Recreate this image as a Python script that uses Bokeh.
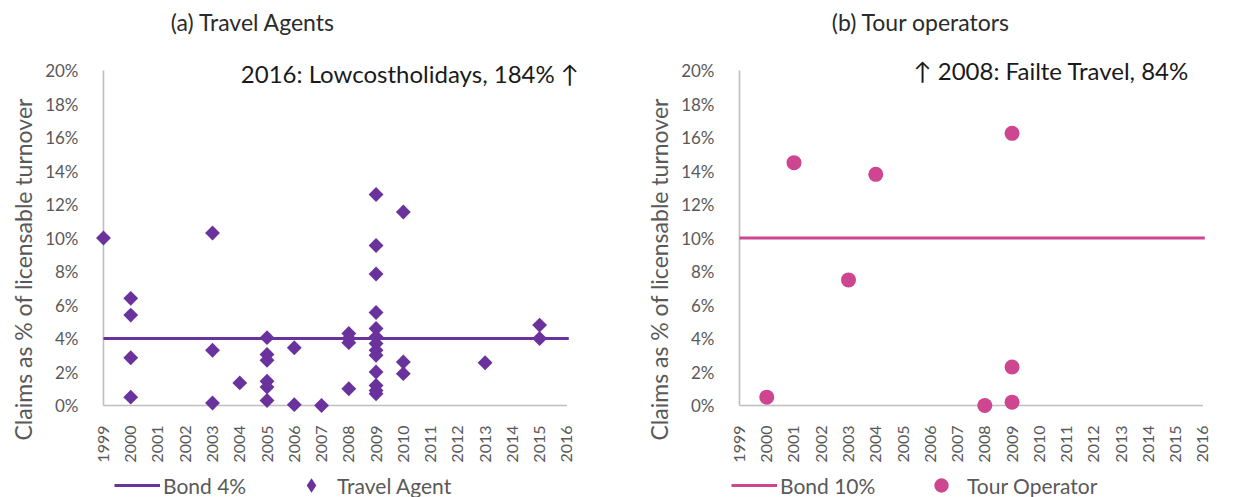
import math
from bokeh.plotting import figure
from bokeh.models import (Range1d, FixedTicker, PrintfTickFormatter, Label,
                          Legend, LegendItem, Title)
from bokeh.layouts import row, column
from bokeh.embed import file_html
from bokeh.resources import INLINE

FONT = "Lato"

# ---------------- data ----------------
years = list(range(1999, 2017))          # category axis 1999..2016
y_ticks = list(range(0, 21, 2))          # 0% .. 20%

# (a) Travel agents: claims as % of licensable turnover
ta_year = [1999,
           2000, 2000, 2000, 2000,
           2003, 2003, 2003,
           2004,
           2005, 2005, 2005, 2005, 2005, 2005,
           2006, 2006,
           2007,
           2008, 2008, 2008, 2008,
           2009, 2009, 2009, 2009, 2009, 2009, 2009, 2009, 2009, 2009, 2009, 2009, 2009,
           2010, 2010, 2010,
           2013,
           2015, 2015]
ta_value = [10.0,
            6.4, 5.4, 2.85, 0.5,
            10.3, 3.3, 0.15,
            1.35,
            4.05, 3.05, 2.7, 1.45, 1.1, 0.3,
            3.45, 0.05,
            0.0,
            4.3, 4.0, 3.75, 1.0,
            12.6, 9.55, 7.85, 5.55, 4.6, 4.1, 3.7, 3.3, 3.0, 2.0, 1.2, 0.9, 0.7,
            11.55, 2.6, 1.9,
            2.55,
            4.8, 4.0]
ta_bond = 4

# (b) Tour operators
to_year = [2000, 2001, 2003, 2004, 2008, 2009, 2009, 2009]
to_value = [0.5, 14.5, 7.5, 13.8, 0.0, 16.25, 2.3, 0.2]
to_bond = 10

PURPLE = "#6A329C"
PINK = "#CE4590"
GREY_TXT = "#595959"
AXIS_GREY = "#BFBFBF"

MARKERS = {"ta": dict(marker="square", size=10.5, angle=math.pi / 4),
           "to": dict(marker="circle", size=15, angle=0)}
LEGEND_MARKERS = {"ta": "diamond", "to": "circle"}


def make_panel(width, border_right, title, title_x,
               note, note_x, note_y, xs, ys, bond, color, mk):
    p = figure(width=width, height=468,
               x_range=Range1d(1998.634, 2016.5),
               y_range=Range1d(-0.597, 24.18),
               output_backend="svg", toolbar_location=None, title=None,
               min_border_left=92, min_border_right=border_right,
               min_border_top=0, min_border_bottom=53)
    p.grid.visible = False
    p.outline_line_color = None
    p.background_fill_color = "white"

    # y-axis caption as a side title, starting a little below the frame bottom
    p.add_layout(Title(text="Claims as % of licensable turnover", align="left",
                       offset=-25, standoff=12, text_font=FONT,
                       text_font_size="23px", text_font_style="normal",
                       text_color=GREY_TXT), "left")

    p.yaxis.ticker = FixedTicker(ticks=y_ticks)
    p.yaxis.formatter = PrintfTickFormatter(format="%d%%")
    p.xaxis.ticker = FixedTicker(ticks=years)
    p.xaxis.formatter = PrintfTickFormatter(format="%d")
    p.xaxis.major_label_orientation = math.pi / 2
    for ax in (p.xaxis, p.yaxis):
        ax.axis_line_color = None
        ax.major_tick_line_color = None
        ax.minor_tick_line_color = None
        ax.major_label_text_font = FONT
        ax.major_label_text_color = GREY_TXT
    p.yaxis.major_label_text_font_size = "17px"
    p.yaxis.major_label_standoff = 9
    p.xaxis.major_label_text_font_size = "16px"
    p.xaxis.major_label_standoff = 4

    # axis lines as glyphs so markers sitting on 0% / 1999 are not clipped
    p.segment(x0=[years[0], years[0]], y0=[0, 0],
              x1=[years[0], years[-1]], y1=[y_ticks[-1], 0],
              line_color=AXIS_GREY, line_width=1.6)

    p.line(x=[years[0], years[-1] + 0.07], y=[bond, bond],
           line_color=color, line_width=3)
    p.scatter(x=xs, y=ys, fill_color=color, line_color=None, **mk)

    p.add_layout(Label(x=title_x, y=22.87, text=title, text_align="center",
                       text_baseline="middle", text_font=FONT,
                       text_font_size="23px", text_color="#2b2b2b"))
    p.add_layout(Label(x=note_x, y=note_y, text=note, text_align="right",
                       text_baseline="middle", text_font=FONT,
                       text_font_size="24px", text_color="#1a1a1a"))
    return p


def make_legend(width, border_right, bond_label, pt_label, xs, ys, bond, color,
                marker, leg_x, leg_lw, leg_sp):
    # legend strip below a chart; its data lies outside this strip's ranges,
    # so only the legend swatches are visible
    q = figure(width=width, height=29, x_range=Range1d(0, 1), y_range=Range1d(0, 1),
               output_backend="svg", toolbar_location=None, title=None,
               x_axis_type=None, y_axis_type=None,
               min_border_left=92, min_border_right=border_right,
               min_border_top=0, min_border_bottom=0)
    q.grid.visible = False
    q.outline_line_color = None
    r_line = q.line(x=[years[0], years[-1]], y=[bond, bond],
                    line_color=color, line_width=3)
    r_pts = q.scatter(x=xs, y=ys, marker=marker, size=14,
                      fill_color=color, line_color=None)
    leg = Legend(items=[LegendItem(label=bond_label, renderers=[r_line]),
                        LegendItem(label=pt_label, renderers=[r_pts])],
                 orientation="horizontal", location=(leg_x, -6),
                 glyph_width=46, glyph_height=36, label_standoff=3,
                 label_width=leg_lw, spacing=leg_sp,
                 padding=0, margin=0, border_line_color=None,
                 background_fill_alpha=0, label_text_font=FONT,
                 label_text_font_size="21px", label_text_color=GREY_TXT)
    q.add_layout(leg, "center")
    return q


p1 = make_panel(636, 56, "(a) Travel Agents", 2004.49,
                "2016: Lowcostholidays, 184% \u2191", 2016.44, 19.85,
                ta_year, ta_value, ta_bond, PURPLE, MARKERS["ta"])
p2 = make_panel(590, 10, "(b) Tour operators", 2005.66,
                "\u2191 2008: Failte Travel, 84%", 2015.49, 20.0,
                to_year, to_value, to_bond, PINK, MARKERS["to"])
l1 = make_legend(636, 56, "Bond 4%", "Travel Agent", ta_year, ta_value, ta_bond,
                 PURPLE, LEGEND_MARKERS["ta"], 21, 95, 30)
l2 = make_legend(590, 10, "Bond 10%", "Tour Operator", to_year, to_value, to_bond,
                 PINK, LEGEND_MARKERS["to"], 2, 105, 33)

layout = row(column(p1, l1), column(p2, l2))
open("out.html", "w").write(file_html(layout, INLINE))
